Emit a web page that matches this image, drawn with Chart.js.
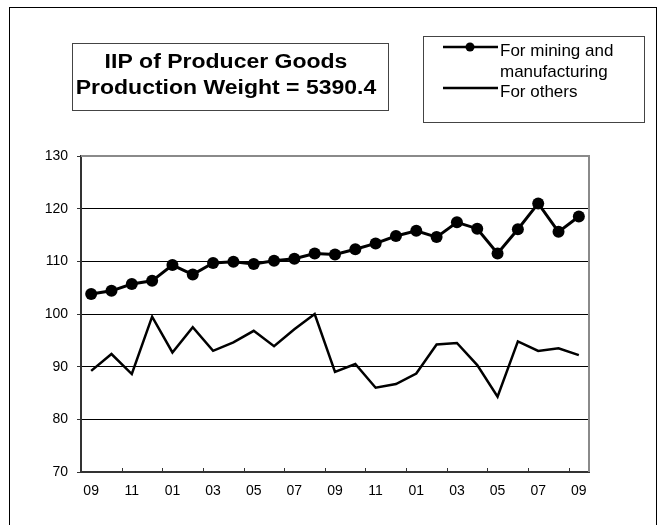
<!DOCTYPE html>
<html>
<head>
<meta charset="utf-8">
<script src="https://cdn.jsdelivr.net/npm/chart.js@4"></script>
<style>
  html, body { margin: 0; padding: 0; background: #fff; }
  #wrap { width: 659px; height: 525px; position: relative; }
</style>
</head>
<body>
<div id="wrap"><canvas id="c" width="659" height="525"></canvas></div>
<script>
// ---- data ----
const months = ['09','10','11','12','01','02','03','04','05','06','07','08',
                '09','10','11','12','01','02','03','04','05','06','07','08','09'];
const mining = [103.8,104.4,105.7,106.3,109.3,107.5,109.7,109.9,109.5,110.1,110.5,111.5,
                111.3,112.3,113.4,114.8,115.8,114.6,117.4,116.2,111.5,116.1,121.0,115.6,118.5];
const others = [89.2,92.4,88.6,99.5,92.7,97.5,93.0,94.6,96.8,93.9,97.1,100.0,
                89.0,90.5,86.0,86.7,88.7,94.2,94.5,90.3,84.3,94.8,93.0,93.5,92.2];
const titleLines = ['IIP of Producer Goods', 'Production Weight = 5390.4'];
const legendLines = [['For mining and', 'manufacturing'], ['For others']];

const FONT = '"Liberation Sans", Arial, sans-serif';

// ---- frame, title box, legend box, inner ticks ----
const frame = {
  id: 'frame',
  beforeDraw(chart) {
    const ctx = chart.ctx;
    ctx.save();
    ctx.fillStyle = '#fff';
    ctx.fillRect(0, 0, chart.width, chart.height);
    ctx.strokeStyle = '#000';
    ctx.lineWidth = 1;
    ctx.strokeRect(9.5, 7.5, 647, 540);
    ctx.restore();
  },
  beforeDatasetsDraw(chart) {
    const ctx = chart.ctx, a = chart.chartArea;
    ctx.save();
    ctx.strokeStyle = '#8a8a8a';
    ctx.lineWidth = 2;
    ctx.beginPath();
    ctx.moveTo(a.left, a.top);
    ctx.lineTo(a.right, a.top);
    ctx.lineTo(a.right, a.bottom);
    ctx.stroke();
    // inner tick marks between every second category
    const xs = chart.scales.x;
    ctx.strokeStyle = '#333';
    ctx.lineWidth = 1;
    for (let i = 2; i < months.length; i += 2) {
      const x = Math.round((xs.getPixelForValue(i - 1) + xs.getPixelForValue(i)) / 2) + 0.5;
      ctx.beginPath();
      ctx.moveTo(x, a.bottom - 4);
      ctx.lineTo(x, a.bottom);
      ctx.stroke();
    }
    ctx.restore();
  },
  afterDraw(chart) {
    const ctx = chart.ctx;
    ctx.save();
    // title box
    ctx.strokeStyle = '#444';
    ctx.lineWidth = 1;
    ctx.strokeRect(72.5, 43.5, 316, 67);
    ctx.fillStyle = '#000';
    ctx.font = 'bold 20px ' + FONT;
    ctx.textAlign = 'center';
    ctx.textBaseline = 'alphabetic';
    titleLines.forEach((t, i) => {
      ctx.save();
      ctx.translate(226, 68 + i * 26);
      ctx.scale(1.15, 1);
      ctx.fillText(t, 0, 0);
      ctx.restore();
    });
    // legend box
    ctx.strokeRect(423.5, 36.5, 221, 86);
    const ds = chart.data.datasets;
    ctx.font = '17px ' + FONT;
    ctx.textAlign = 'left';
    let y = 47;
    ds.forEach((d, k) => {
      ctx.strokeStyle = d.borderColor;
      ctx.lineWidth = 2.5;
      ctx.beginPath();
      ctx.moveTo(443, y);
      ctx.lineTo(498, y);
      ctx.stroke();
      if (d.pointRadius > 0) {
        ctx.fillStyle = d.pointBackgroundColor;
        ctx.beginPath();
        ctx.arc(470, y, 4.5, 0, Math.PI * 2);
        ctx.fill();
      }
      ctx.fillStyle = '#000';
      legendLines[k].forEach((t, j) => ctx.fillText(t, 500, y + 9 + j * 20.5));
      y += 41;
    });
    ctx.restore();
  }
};

new Chart(document.getElementById('c'), {
  type: 'line',
  data: {
    labels: months,
    datasets: [
      {
        label: legendLines[0].join(' '),
        data: mining,
        borderColor: '#000',
        backgroundColor: '#000',
        borderWidth: 3,
        pointRadius: 6,
        pointBackgroundColor: '#000',
        pointBorderWidth: 0,
        tension: 0
      },
      {
        label: legendLines[1].join(' '),
        data: others,
        borderColor: '#000',
        borderWidth: 2.5,
        pointRadius: 0,
        tension: 0
      }
    ]
  },
  options: {
    responsive: false,
    animation: false,
    layout: { padding: { left: 0, top: 156, right: 70, bottom: 0 } },
    plugins: { legend: { display: false }, title: { display: false }, tooltip: { enabled: false } },
    scales: {
      x: {
        type: 'category',
        offset: true,
        afterFit: s => { s.height = 53; },
        grid: { display: true, drawOnChartArea: false, drawTicks: false, offset: true },
        border: { color: '#333', width: 2 },
        ticks: {
          autoSkip: false,
          maxRotation: 0,
          padding: 11,
          color: '#000',
          font: { family: FONT, size: 14 },
          callback: (v, i) => (i % 2 === 0 ? months[i] : '')
        }
      },
      y: {
        min: 70,
        max: 130,
        afterFit: s => { s.width = 81; },
        grid: {
          color: c => (c.tick && (c.tick.value === 70 || c.tick.value === 130) ? 'rgba(0,0,0,0)' : '#000'),
          tickColor: '#333',
          tickLength: 4,
          lineWidth: 1
        },
        border: { color: '#333', width: 2 },
        ticks: {
          stepSize: 10,
          padding: 9,
          color: '#000',
          font: { family: FONT, size: 14 }
        }
      }
    }
  },
  plugins: [frame]
});
</script>
</body>
</html>
